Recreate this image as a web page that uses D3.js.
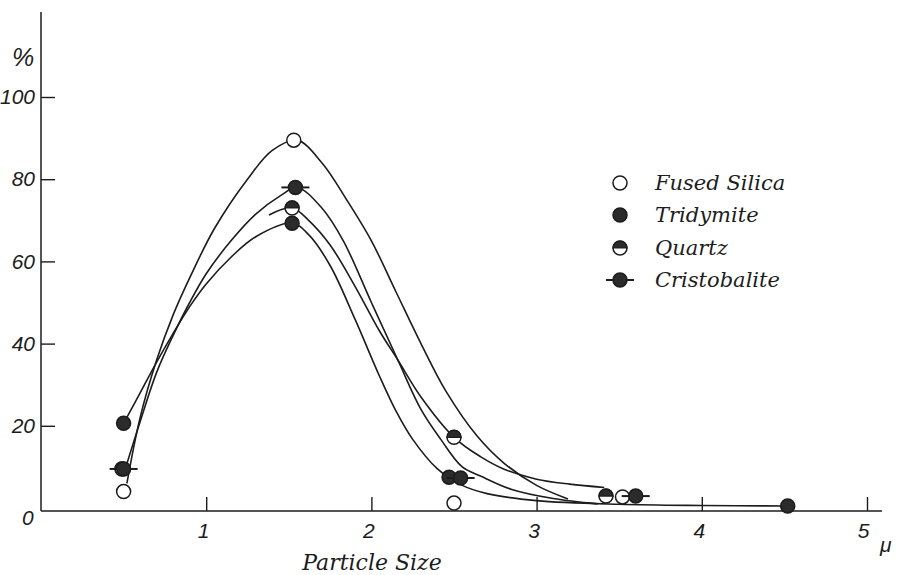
<!DOCTYPE html>
<meta charset="utf-8">
<style>
    body { margin: 0; background: #fff; }
    text { fill: #1c1c1c; font-style: italic; }
    .num { font-family: "Liberation Sans", sans-serif; font-size: 21px; }
    .script { font-family: "DejaVu Serif", serif; font-size: 21px; }
    .curve { fill: none; stroke: #1c1c1c; stroke-width: 1.6px; }
    .axis line { stroke: #1c1c1c; stroke-width: 1.4px; }
</style>
<svg width="898" height="575"></svg>
<script src="https://d3js.org/d3.v7.min.js"></script>
<script>
    var svg = d3.select("svg");

    var xTicks = [1, 2, 3, 4, 5];
    var yTicks = [20, 40, 60, 80, 100];
    var seriesNames = ["Fused Silica", "Tridymite", "Quartz", "Cristobalite"];

    // measured points (particle size in micron, %)
    var fusedPts = [[0.5, 4], [1.53, 89.5], [2.5, 1.2], [3.52, 2.7]];
    var tridymitePts = [[0.5, 20.6], [1.52, 69.3], [2.47, 7.5], [4.52, 0.5]];
    var quartzPts = [[0.49, 9.5], [1.52, 73], [2.5, 17.2], [3.42, 2.9]];
    var cristobalitePts = [[0.5, 9.5], [1.54, 78], [2.54, 7.3], [3.6, 2.9]];

    // hand drawn curves
    var fusedCurve = [[0.52, 6], [0.6, 22], [0.7, 36], [0.8, 47], [0.9, 56], [1.05, 68], [1.25, 80],
        [1.4, 87], [1.55, 89.5], [1.7, 84], [1.85, 75], [2.0, 65], [2.15, 52.5], [2.3, 40],
        [2.45, 28.5], [2.64, 17.5], [2.8, 11], [3.0, 5.5], [3.19, 2.2]];
    var tridymiteCurve = [[0.5, 20.6], [0.6, 28], [0.7, 35.5], [0.8, 42.5], [0.9, 49], [1.0, 54.5],
        [1.15, 61], [1.3, 66], [1.52, 69.3], [1.62, 66.5], [1.75, 59], [1.9, 46], [2.05, 32],
        [2.15, 23.5], [2.25, 16.7], [2.4, 9.5], [2.55, 5.5], [2.7, 3.5], [3.0, 1.8], [3.5, 0.9],
        [4.0, 0.6], [4.52, 0.5]];
    var quartzCurve = [[1.38, 71.3], [1.52, 73], [1.62, 70], [1.75, 64], [1.9, 54], [2.05, 43],
        [2.16, 36], [2.3, 27], [2.5, 17.2], [2.66, 12.5], [2.8, 9.5], [3.0, 7], [3.2, 5.8], [3.41, 5.0]];
    var cristobaliteCurve = [[0.51, 9.5], [0.6, 21], [0.7, 33], [0.8, 42], [0.9, 50], [1.0, 57],
        [1.15, 65], [1.3, 71.5], [1.45, 76], [1.55, 78], [1.7, 73], [1.83, 65], [2.0, 50],
        [2.16, 36], [2.3, 24], [2.42, 16.7], [2.55, 10], [2.66, 7.8], [2.85, 4.5], [3.1, 2.3], [3.37, 1.0]];

    var x = d3.scaleLinear().domain([0, 5]).range([41, 867]);
    var y = d3.scaleLinear().domain([0, 100]).range([508, 97]);
    var axisY = 511;

    // axes
    svg.append("line")
        .attr("x1", x(0)).attr("x2", 882).attr("y1", axisY).attr("y2", axisY)
        .style("stroke", "#1c1c1c").style("stroke-width", 1.5);
    svg.append("line")
        .attr("x1", x(0)).attr("x2", x(0)).attr("y1", 12).attr("y2", axisY)
        .style("stroke", "#1c1c1c").style("stroke-width", 1.5);

    var gx = svg.append("g").attr("class", "axis")
        .attr("transform", "translate(0," + axisY + ")")
        .call(d3.axisBottom(x).tickValues(xTicks).tickFormat(d3.format("d"))
            .tickSizeInner(-14).tickSizeOuter(0).tickPadding(12));
    var gy = svg.append("g").attr("class", "axis")
        .attr("transform", "translate(" + x(0) + ",0)")
        .call(d3.axisLeft(y).tickValues(yTicks).tickFormat(d3.format("d"))
            .tickSizeInner(-14).tickSizeOuter(0).tickPadding(6));
    svg.selectAll(".axis .domain").remove();
    svg.selectAll(".axis text").attr("class", "num").attr("fill", null);
    gx.attr("font-family", null).attr("font-size", null);
    gy.attr("font-family", null).attr("font-size", null);
    gx.selectAll("text").attr("dx", function(d) { return d === 5 ? "-4" : "-3"; });

    svg.append("text").attr("class", "num").attr("x", 22).attr("y", 525).text("0");
    svg.append("text").attr("class", "num").attr("x", 12).attr("y", 66)
        .style("font-size", "25px").text("%");
    svg.append("text").attr("class", "num").attr("x", 880).attr("y", 552).text("\u03bc");
    svg.append("text").attr("class", "script").attr("x", 372).attr("y", 570)
        .attr("text-anchor", "middle").style("font-size", "22px").text("Particle Size");

    // curves
    var line = d3.line()
        .x(function(d) { return x(d[0]); })
        .y(function(d) { return y(d[1]); })
        .curve(d3.curveCatmullRom.alpha(0.5));

    [fusedCurve, tridymiteCurve, quartzCurve, cristobaliteCurve].forEach(function(c) {
        svg.append("path").attr("class", "curve").attr("d", line(c));
    });

    // markers
    var r = 7;
    function marker(g, kind, cx, cy) {
        var ink = "#2b2b2b";
        if (kind === 3) {
            g.append("line").attr("x1", cx - 14).attr("x2", cx + 14).attr("y1", cy).attr("y2", cy)
                .style("stroke", "#1c1c1c").style("stroke-width", 2);
        }
        g.append("circle").attr("cx", cx).attr("cy", cy).attr("r", r)
            .attr("fill", kind === 0 || kind === 2 ? "#fff" : ink)
            .attr("stroke", "#1c1c1c").attr("stroke-width", 1.5);
        if (kind === 2) {
            g.append("path")
                .attr("d", "M" + (cx - r) + "," + cy + " A" + r + "," + r + " 0 0,1 " + (cx + r) + "," + cy + " Z")
                .attr("fill", ink).attr("stroke", "#1c1c1c").attr("stroke-width", 1.2);
        }
    }

    var pts = [fusedPts, tridymitePts, quartzPts, cristobalitePts];
    var gm = svg.append("g");
    [2, 0, 1, 3].forEach(function(k) {
        pts[k].forEach(function(p) { marker(gm, k, x(p[0]), y(p[1])); });
    });

    // legend
    var legendY = [183, 215, 248, 280];
    var legend = svg.append("g");
    seriesNames.forEach(function(name, i) {
        marker(legend, i, 620, legendY[i]);
        legend.append("text").attr("class", "script")
            .attr("x", 655).attr("y", legendY[i] + 7).text(name);
    });
</script>
